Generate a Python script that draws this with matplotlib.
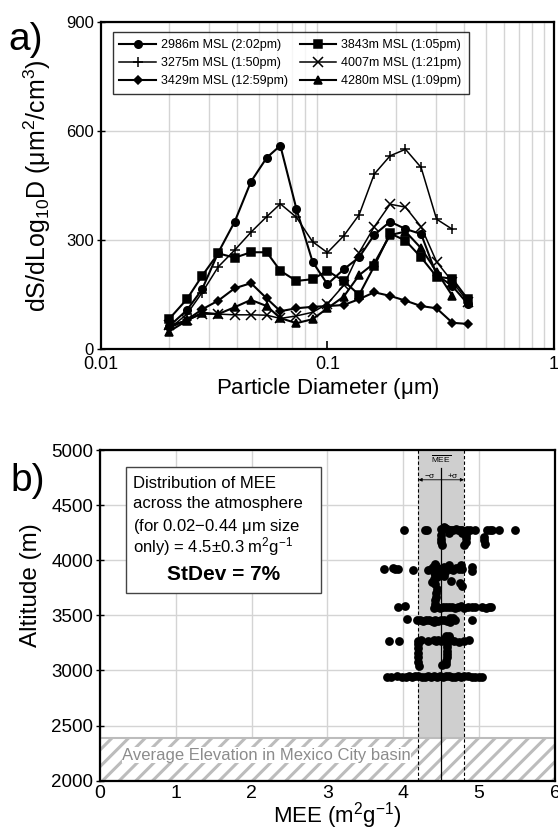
import numpy as np
import matplotlib
matplotlib.use("Agg")
import matplotlib.pyplot as plt
from matplotlib.patches import Rectangle
from matplotlib.ticker import FixedLocator, NullFormatter

plt.rcParams.update({
    "font.family": ["Liberation Sans", "DejaVu Sans"],
    "mathtext.fontset": "custom",
    "mathtext.rm": "Liberation Sans",
    "mathtext.it": "Liberation Sans:italic",
    "mathtext.bf": "Liberation Sans:bold",
    "mathtext.default": "regular",
    "hatch.linewidth": 2.2,
})

# ---- panel a: surface area size distributions ----
DIAM = [0.020, 0.024, 0.028, 0.033, 0.039, 0.046, 0.054, 0.062, 0.073, 0.086,
        0.100, 0.118, 0.138, 0.161, 0.189, 0.221, 0.259, 0.303, 0.356, 0.416]

S_2986 = [62, 107, 164, 265, 350, 460, 526, 559, 385, 240,
          178, 219, 252, 314, 350, 330, 316, 204, 173, 124]
S_3275 = [55, 96, 155, 226, 272, 321, 364, 399, 362, 295,
          265, 311, 369, 481, 531, 549, 499, 357, 329]
S_3429 = [58, 80, 109, 133, 167, 181, 139, 104, 112, 116,
          118, 121, 137, 156, 146, 133, 118, 112, 72, 69]
S_3843 = [82, 137, 201, 263, 251, 266, 266, 215, 187, 192,
          215, 187, 149, 228, 318, 298, 252, 199, 193, 137]
S_4007 = [65, 79, 96, 96, 94, 94, 93, 84, 91, 101,
          124, 175, 265, 336, 398, 390, 336, 240, 185, 130]
S_4280 = [48, 78, 100, 96, 115, 135, 118, 85, 71, 82,
          112, 144, 203, 236, 313, 323, 277, 213, 146]

SERIES = [
    ("2986m MSL (2:02pm)", S_2986, "o", 1.5),
    ("3275m MSL (1:50pm)", S_3275, "+", 1.1),
    ("3429m MSL (12:59pm)", S_3429, "D", 1.5),
    ("3843m MSL (1:05pm)", S_3843, "s", 1.5),
    ("4007m MSL (1:21pm)", S_4007, "x", 1.1),
    ("4280m MSL (1:09pm)", S_4280, "^", 1.5),
]

# ---- panel b: MEE vs altitude, read row by row ----
MEE_4275 = [4.01, 4.28, 4.31, 4.50, 4.53, 4.55, 4.57, 4.60, 4.63, 4.66, 4.69, 4.72,
            4.75, 4.78, 4.84, 4.88, 4.95, 5.10, 5.14, 5.17, 5.26, 5.47]
ALT_4275 = [4272, 4275, 4275, 4285, 4300, 4295, 4280, 4275, 4278, 4272, 4280, 4275,
            4272, 4278, 4275, 4272, 4275, 4275, 4272, 4270, 4270, 4275]
MEE_4200 = [4.50, 4.50, 4.50, 4.51, 4.60, 4.78, 4.82, 4.83, 4.82, 4.80, 5.07, 5.07, 5.08]
ALT_4200 = [4230, 4195, 4165, 4140, 4245, 4250, 4230, 4200, 4165, 4135, 4215, 4185, 4150]

MEE_3925 = [3.75, 3.86, 3.89, 3.93, 4.13, 4.33, 4.36, 4.39, 4.42, 4.45, 4.48, 4.50,
            4.53, 4.56, 4.59, 4.62, 4.65, 4.69, 4.73, 4.77, 4.91, 4.91,
            4.42, 4.43, 4.60, 4.75, 4.76]
ALT_3925 = [3925, 3930, 3925, 3920, 3915, 3915, 3925, 3935, 3920, 3930, 3915, 3925,
            3935, 3920, 3930, 3925, 3915, 3930, 3925, 3920, 3905, 3935,
            3965, 3945, 3955, 3935, 3960]
MEE_3800 = [4.40, 4.42, 4.45, 4.40, 4.38, 4.42, 4.50, 4.53, 4.55, 4.63, 4.75, 4.77,
            4.42, 4.42, 4.43, 4.43, 4.44]
ALT_3800 = [3890, 3870, 3850, 3830, 3800, 3780, 3880, 3860, 3890, 3810, 3790, 3765,
            3600, 3635, 3670, 3705, 3740]

MEE_3575 = [3.93, 4.02, 4.40, 4.42, 4.45, 4.48, 4.52, 4.56, 4.60, 4.64, 4.68, 4.72,
            4.76, 4.80, 4.85, 4.90, 4.95, 5.04, 5.09, 5.13, 5.15]
ALT_3575 = [3580, 3585, 3570, 3580, 3575, 3570, 3578, 3572, 3580, 3575, 3570, 3578,
            3582, 3570, 3575, 3580, 3572, 3575, 3570, 3580, 3575]

MEE_3455 = [4.05, 4.18, 4.22, 4.26, 4.30, 4.34, 4.38, 4.42, 4.46, 4.50, 4.54, 4.58,
            4.62, 4.65, 4.68, 4.90, 4.62, 4.40]
ALT_3455 = [3465, 3455, 3458, 3450, 3460, 3455, 3448, 3458, 3452, 3460, 3455, 3450,
            3475, 3480, 3460, 3455, 3440, 3440]

MEE_3270 = [3.81, 3.94, 4.19, 4.23, 4.32, 4.40, 4.43, 4.46, 4.50, 4.54, 4.58, 4.62,
            4.67, 4.73, 4.80, 4.87, 4.56, 4.60]
ALT_3270 = [3265, 3265, 3270, 3275, 3270, 3272, 3265, 3278, 3270, 3282, 3300, 3290,
            3268, 3262, 3270, 3278, 3310, 3315]
MEE_3100 = [4.20, 4.20, 4.20, 4.20, 4.20, 4.21, 4.57, 4.57, 4.57, 4.57, 4.57, 4.56,
            4.56, 4.51]
ALT_3100 = [3240, 3200, 3160, 3120, 3080, 3040, 3240, 3210, 3180, 3150, 3120, 3090,
            3060, 3050]

MEE_2945 = [3.78, 3.84, 3.92, 3.98, 4.04, 4.08, 4.12, 4.16, 4.20, 4.24, 4.28, 4.32,
            4.36, 4.40, 4.44, 4.48, 4.52, 4.56, 4.60, 4.64, 4.68, 4.72, 4.76, 4.80,
            4.85, 4.90, 4.95, 5.00, 5.04]
ALT_2945 = [2945, 2945, 2948, 2942, 2945, 2950, 2940, 2946, 2952, 2942, 2945, 2950,
            2940, 2948, 2944, 2952, 2940, 2946, 2950, 2942, 2945, 2948, 2940, 2946,
            2950, 2944, 2945, 2942, 2945]

MEE_MEAN, MEE_SD = 4.5, 0.3
BASIN_TOP = 2385

fig = plt.figure(figsize=(5.58, 8.30), dpi=100)

# ---------------- panel a ----------------
ax = fig.add_axes([0.1805, 0.5795, 0.8125, 0.3945])
for label, vals, mk, lw in SERIES:
    x = DIAM[:len(vals)]
    ms = 6.5 if mk in ("+", "x") else (4.4 if mk == "D" else 5.4)
    ax.plot(x, vals, color="black", marker=mk, lw=lw, ms=ms, mew=1.1,
            label=label, zorder=3)
ax.set_xscale("log")
ax.set_xlim(0.01, 1)
ax.set_ylim(0, 900)
ax.xaxis.set_major_locator(FixedLocator([0.01, 0.1, 1]))
ax.set_xticklabels(["0.01", "0.1", "1"])
minor = [k * 10.0 ** e for e in (-2, -1) for k in range(2, 10)]
ax.xaxis.set_minor_locator(FixedLocator(minor))
ax.xaxis.set_minor_formatter(NullFormatter())
ax.set_yticks([0, 300, 600, 900])
ax.grid(which="minor", axis="x", color="#d4d4d4", lw=1.0)
ax.grid(which="major", axis="y", color="#d4d4d4", lw=1.0)
ax.set_axisbelow(True)
ax.tick_params(axis="x", which="major", direction="in", length=6, width=1.2,
               labelsize=13, pad=5)
ax.tick_params(axis="x", which="minor", length=0)
ax.tick_params(axis="y", direction="inout", length=6, width=1, labelsize=12, pad=2)
for sp in ax.spines.values():
    sp.set_linewidth(1.6)
ax.set_xlabel("Particle Diameter ($\\mu$m)", fontsize=16, labelpad=2)
ax.set_ylabel("dS/dLog$_{10}$D ($\\mu$m$^2$/cm$^3$)", fontsize=18)
ax.yaxis.set_label_coords(-0.105, 0.5)
leg = ax.legend(ncol=2, loc="upper left", bbox_to_anchor=(0.026, 0.968),
                borderaxespad=0, fontsize=9, frameon=True, fancybox=False,
                edgecolor="black", handlelength=2.9, columnspacing=1.0,
                labelspacing=0.5, borderpad=0.55, handletextpad=0.4)
leg.get_frame().set_linewidth(1.0)
fig.text(0.046, 0.952, "a)", fontsize=28, ha="center", va="center")

# ---------------- panel b ----------------
bx = fig.add_axes([0.1792, 0.0594, 0.8154, 0.3984])
bx.set_xlim(0, 6)
bx.set_ylim(2000, 5000)
bx.set_xticks(range(0, 7))
bx.set_yticks(range(2000, 5001, 500))
bx.grid(color="#d4d4d4", lw=1.0)
bx.set_axisbelow(True)
bx.axvspan(MEE_MEAN - MEE_SD, MEE_MEAN + MEE_SD, color="#cfcfcf", lw=0, zorder=1)
bx.add_patch(Rectangle((0, 2000), 6, BASIN_TOP - 2000, facecolor="white",
                       edgecolor="#bcbcbc", hatch="//", lw=1.5, zorder=2))
bx.text(2.19, 2233, "Average Elevation in Mexico City basin", color="#8c8c8c",
        fontsize=12, ha="center", va="center", zorder=3,
        bbox=dict(facecolor="white", edgecolor="none", pad=0.1))
for xv in (MEE_MEAN - MEE_SD, MEE_MEAN + MEE_SD):
    bx.axvline(xv, color="black", ls=(0, (3, 2)), lw=0.8, zorder=3)
bx.plot([MEE_MEAN, MEE_MEAN], [2000, 4840], color="black", lw=0.9, zorder=3)
bx.text(MEE_MEAN, 4915, "$\\overline{MEE}$", fontsize=6, ha="center", va="center")
for xe, lab in ((MEE_MEAN - MEE_SD, "$-\\sigma$"), (MEE_MEAN + MEE_SD, "+$\\sigma$")):
    bx.annotate("", xy=(xe, 4730), xytext=(MEE_MEAN, 4730),
                arrowprops=dict(arrowstyle="-|>", lw=0.6, color="black",
                                mutation_scale=5, shrinkA=0, shrinkB=0))
    bx.text((xe + MEE_MEAN) / 2, 4768, lab, fontsize=6, ha="center", va="center")

mee = (MEE_4275 + MEE_4200 + MEE_3925 + MEE_3800 + MEE_3575 + MEE_3455
       + MEE_3270 + MEE_3100 + MEE_2945)
alt = (ALT_4275 + ALT_4200 + ALT_3925 + ALT_3800 + ALT_3575 + ALT_3455
       + ALT_3270 + ALT_3100 + ALT_2945)
bx.scatter(mee, alt, s=40, color="black", lw=0, zorder=4)

bx.add_patch(Rectangle((0.0565, 0.5667), 0.429, 0.383, transform=bx.transAxes,
                       facecolor="white", edgecolor="#444444", lw=1.0, zorder=5))
box_lines = ["Distribution of MEE", "across the atmosphere",
             "(for 0.02$-$0.44 $\\mu$m size",
             "only) = 4.5$\\pm$0.3 m$^2$g$^{-1}$"]
for yy, s in zip((0.899, 0.839, 0.768, 0.708), box_lines):
    bx.text(0.073, yy, s, transform=bx.transAxes, fontsize=12, va="center",
            ha="left", zorder=6)
bx.text(0.2705, 0.625, "StDev = 7%", transform=bx.transAxes, fontsize=15,
        fontweight="bold", ha="center", va="center", zorder=6)

bx.tick_params(axis="x", direction="in", length=6, width=1.2, labelsize=14, pad=3)
bx.tick_params(axis="y", direction="inout", length=6, width=1, labelsize=13.5, pad=2)
for sp in bx.spines.values():
    sp.set_linewidth(1.6)
    sp.set_zorder(7)
bx.set_xlabel("MEE (m$^2$g$^{-1}$)", fontsize=16)
bx.xaxis.set_label_coords(0.521, -0.06)
bx.set_ylabel("Altitude (m)", fontsize=17.5)
bx.yaxis.set_label_coords(-0.127, 0.592)
fig.text(0.05, 0.4205, "b)", fontsize=28, ha="center", va="center")

fig.savefig("out.png", dpi=100, facecolor="white")
